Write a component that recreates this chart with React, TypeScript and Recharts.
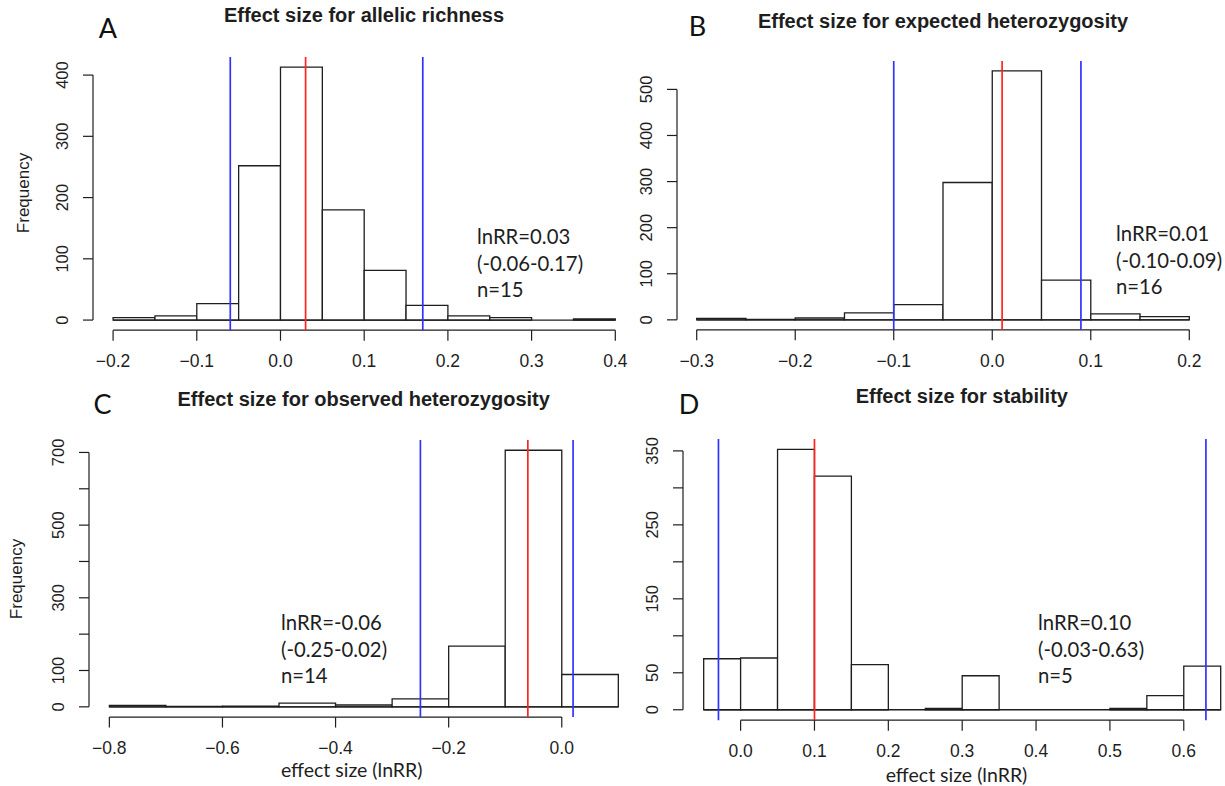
import React from 'react';
import { ComposedChart, XAxis, YAxis, ReferenceArea, ReferenceLine } from 'recharts';

// Bootstrap distributions of lnRR, binned the way R's hist() did it.

// A: allelic richness
const richnessEdges = [-0.2, -0.15, -0.1, -0.05, 0, 0.05, 0.1, 0.15, 0.2, 0.25, 0.3, 0.35, 0.4];
const richnessCounts = [4, 7, 27, 252, 413, 180, 81, 24, 7, 4, 0, 2];
const richnessXTicks = [-0.2, -0.1, 0, 0.1, 0.2, 0.3, 0.4];
const richnessYTicks = [0, 100, 200, 300, 400];
const richnessStats = { est: 0.03, lo: -0.06, hi: 0.17, n: 15 };

// B: expected heterozygosity
const expectedEdges = [-0.3, -0.25, -0.2, -0.15, -0.1, -0.05, 0, 0.05, 0.1, 0.15, 0.2];
const expectedCounts = [3, 1, 4, 15, 33, 298, 540, 86, 13, 7];
const expectedXTicks = [-0.3, -0.2, -0.1, 0, 0.1, 0.2];
const expectedYTicks = [0, 100, 200, 300, 400, 500];
const expectedStats = { est: 0.01, lo: -0.1, hi: 0.09, n: 16 };

// C: observed heterozygosity
const observedEdges = [-0.8, -0.7, -0.6, -0.5, -0.4, -0.3, -0.2, -0.1, 0, 0.1];
const observedCounts = [4, 1, 2, 10, 5, 22, 167, 706, 89];
const observedXTicks = [-0.8, -0.6, -0.4, -0.2, 0];
const observedYTicks = [0, 100, 200, 300, 400, 500, 600, 700];
const observedYLabels = [0, 100, 300, 500, 700];
const observedStats = { est: -0.06, lo: -0.25, hi: 0.02, n: 14 };

// D: stability
const stabilityEdges = [-0.05, 0, 0.05, 0.1, 0.15, 0.2, 0.25, 0.3, 0.35, 0.4, 0.45, 0.5, 0.55, 0.6, 0.65];
const stabilityCounts = [69, 70, 352, 316, 61, 0, 2, 46, 0, 0, 0, 2, 19, 59];
const stabilityXTicks = [0, 0.1, 0.2, 0.3, 0.4, 0.5, 0.6];
const stabilityYTicks = [0, 50, 100, 150, 200, 250, 300, 350];
const stabilityYLabels = [0, 50, 150, 250, 350];
const stabilityStats = { est: 0.1, lo: -0.03, hi: 0.63, n: 5 };

const INK = '#1e1e1e';
const AXIS_FONT = '"Liberation Sans", Arial, Helvetica, sans-serif';
const NOTE_FONT = 'Lato, "Open Sans", sans-serif';
const BLUE = '#3232ff';
const RED = '#ff2424';

const AXIS_W = 90;
const AXIS_H = 50;
const PAD_T = 10;
const PAD_R = 10;

const fmtX = (v: number) => {
  const s = Math.abs(v).toFixed(1);
  return v < -1e-9 ? '\u2212' + s : s;
};

type Stats = { est: number; lo: number; hi: number; n: number };
type Box = { left: number; right: number; top: number; bottom: number };

interface HistProps {
  edges: number[];
  counts: number[];
  xTicks: number[];
  yTicks: number[];
  yLabels?: number[];
  stats: Stats;
  box: Box;
}

function Histogram({ edges, counts, xTicks, yTicks, yLabels, stats, box }: HistProps) {
  const first = edges[0];
  const last = edges[edges.length - 1];
  // R pads both axes by 4%
  const xPad = (last - first) * 0.04;
  const top = Math.max(...counts);
  const yPad = top * 0.04;
  const xDomain = [first - xPad, last + xPad];
  const yDomain = [-yPad, top + yPad];
  const shown = yLabels ?? yTicks;

  const width = box.right - box.left + AXIS_W + PAD_R;
  const height = box.bottom - box.top + PAD_T + AXIS_H;

  const XTick = (p: any) => (
    <text x={p.x} y={p.y + 20.5} textAnchor="middle" dominantBaseline="central"
      fontSize={17.5} fontFamily={AXIS_FONT} fill={INK}>
      {fmtX(p.payload.value)}
    </text>
  );
  const YTick = (p: any) => {
    if (!shown.includes(p.payload.value)) return <g />;
    const cx = p.x - 21;
    return (
      <text x={cx} y={p.y} transform={`rotate(-90 ${cx} ${p.y})`} textAnchor="middle"
        dominantBaseline="central" fontSize={16.5} fontFamily={AXIS_FONT} fill={INK}>
        {p.payload.value}
      </text>
    );
  };

  return (
    <div style={{ position: 'absolute', left: box.left - AXIS_W, top: box.top - PAD_T }}>
      <ComposedChart width={width} height={height} margin={{ top: PAD_T, right: PAD_R, bottom: 0, left: 0 }}>
        <XAxis type="number" dataKey="x" domain={xDomain} ticks={xTicks} interval={0} height={AXIS_H}
          allowDataOverflow axisLine={false} tickSize={10.5} tickMargin={0}
          tickLine={{ stroke: INK, strokeWidth: 1.2 }} tick={XTick} />
        <YAxis type="number" domain={yDomain} ticks={yTicks} interval={0} width={AXIS_W}
          allowDataOverflow axisLine={false} tickSize={10} tickMargin={0}
          tickLine={{ stroke: INK, strokeWidth: 1.2 }} tick={YTick} />

        {/* axis lines only span the tick range, as in base R */}
        <ReferenceLine segment={[{ x: xTicks[0], y: yDomain[0] }, { x: xTicks[xTicks.length - 1], y: yDomain[0] }]}
          stroke={INK} strokeWidth={1.2} ifOverflow="visible" />
        <ReferenceLine segment={[{ x: xDomain[0], y: yTicks[0] }, { x: xDomain[0], y: yTicks[yTicks.length - 1] }]}
          stroke={INK} strokeWidth={1.2} ifOverflow="visible" />

        {counts.map((c, i) => (
          <ReferenceArea key={i} x1={edges[i]} x2={edges[i + 1]} y1={0} y2={c}
            fill="#fff" fillOpacity={1} stroke={INK} strokeWidth={1.3} ifOverflow="visible" />
        ))}
        <ReferenceLine segment={[{ x: first, y: 0 }, { x: last, y: 0 }]} stroke={INK} strokeWidth={1.3}
          ifOverflow="visible" />

        <ReferenceLine x={stats.lo} stroke={BLUE} strokeWidth={1.7} ifOverflow="visible" />
        <ReferenceLine x={stats.hi} stroke={BLUE} strokeWidth={1.7} ifOverflow="visible" />
        <ReferenceLine x={stats.est} stroke={RED} strokeWidth={1.7} ifOverflow="visible" />
      </ComposedChart>
    </div>
  );
}

const fmtStat = (v: number) => v.toFixed(2);

function Note({ x, y, stats }: { x: number; y: number; stats: Stats }) {
  const lines = [
    `lnRR=${fmtStat(stats.est)}`,
    `(${fmtStat(stats.lo)}-${fmtStat(stats.hi)})`,
    `n=${stats.n}`,
  ];
  return (
    <g fontFamily={NOTE_FONT} fontSize={20.3} fill={INK}>
      {lines.map((t, i) => (
        <text key={i} x={x} y={y + i * 26.7} dominantBaseline="central">{t}</text>
      ))}
    </g>
  );
}

function Title({ x, y, children }: { x: number; y: number; children: string }) {
  return (
    <text x={x} y={y} textAnchor="middle" dominantBaseline="central" fontFamily={AXIS_FONT}
      fontWeight="bold" fontSize={20} fill={INK}>{children}</text>
  );
}

function Letter({ x, y, children }: { x: number; y: number; children: string }) {
  return (
    <text x={x} y={y} textAnchor="middle" dominantBaseline="central" fontFamily={NOTE_FONT}
      fontSize={27} fill="#111">{children}</text>
  );
}

function Freq({ x, y }: { x: number; y: number }) {
  return (
    <text x={x} y={y} transform={`rotate(-90 ${x} ${y})`} textAnchor="middle" dominantBaseline="central"
      fontFamily={AXIS_FONT} fontSize={17} fill={INK}>Frequency</text>
  );
}

function XLabel({ x, y }: { x: number; y: number }) {
  return (
    <text x={x} y={y} textAnchor="middle" dominantBaseline="central" fontFamily={NOTE_FONT}
      fontSize={19.5} fill={INK}>effect size (lnRR)</text>
  );
}

export default function App() {
  return (
    <div style={{ position: 'absolute', left: 0, top: 0, width: 1225, height: 786, overflow: 'hidden', background: '#fff' }}>
      <Histogram edges={richnessEdges} counts={richnessCounts} xTicks={richnessXTicks} yTicks={richnessYTicks}
        stats={richnessStats} box={{ left: 92.5, right: 634.9, top: 57.3, bottom: 330.5 }} />
      <Histogram edges={expectedEdges} counts={expectedCounts} xTicks={expectedXTicks} yTicks={expectedYTicks}
        stats={expectedStats} box={{ left: 677, right: 1209, top: 60.5, bottom: 329.3 }} />
      <Histogram edges={observedEdges} counts={observedCounts} xTicks={observedXTicks} yTicks={observedYTicks}
        yLabels={observedYLabels} stats={observedStats} box={{ left: 88.7, right: 638.4, top: 440.2, bottom: 717.3 }} />
      <Histogram edges={stabilityEdges} counts={stabilityCounts} xTicks={stabilityXTicks} yTicks={stabilityYTicks}
        yLabels={stabilityYLabels} stats={stabilityStats} box={{ left: 682.7, right: 1241.1, top: 438.8, bottom: 720 }} />

      <svg width={1225} height={786} style={{ position: 'absolute', left: 0, top: 0, pointerEvents: 'none' }}>
        <Letter x={108} y={27}>A</Letter>
        <Letter x={697.5} y={25}>B</Letter>
        <Letter x={102.5} y={403}>C</Letter>
        <Letter x={689} y={403}>D</Letter>

        <Title x={364} y={15}>Effect size for allelic richness</Title>
        <Title x={943} y={21}>Effect size for expected heterozygosity</Title>
        <Title x={363.7} y={399}>Effect size for observed heterozygosity</Title>
        <Title x={961.8} y={396}>Effect size for stability</Title>

        <Freq x={23} y={193} />
        <Freq x={16} y={579} />

        <XLabel x={351.7} y={769} />
        <XLabel x={956.5} y={774} />

        <Note x={477} y={236} stats={richnessStats} />
        <Note x={1116} y={233} stats={expectedStats} />
        <Note x={281} y={622} stats={observedStats} />
        <Note x={1038} y={622} stats={stabilityStats} />
      </svg>
    </div>
  );
}
